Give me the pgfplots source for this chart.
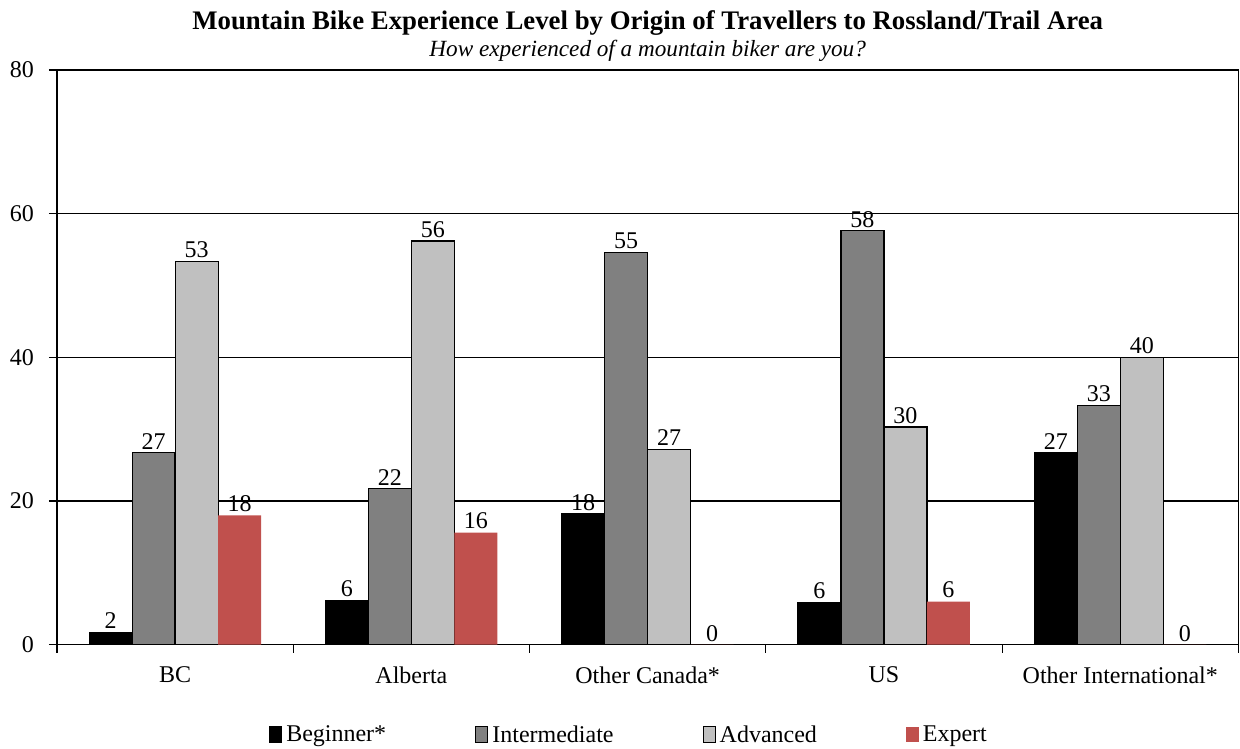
\documentclass[border=0pt]{standalone}
\usepackage{fontspec}
\setmainfont{Liberation Serif}
\usepackage{pgfplots}
\pgfplotsset{compat=1.18}
\definecolor{expert}{RGB}{192,80,77}
\definecolor{interm}{RGB}{128,128,128}
\definecolor{adv}{RGB}{192,192,192}

\begin{document}
\begin{tikzpicture}[font=\fontsize{12}{14}\selectfont]
\begin{axis}[
  at={(0,0)}, anchor=south west,
  scale only axis, width=591pt, height=287.5pt,
  xmin=-0.5, xmax=4.5, ymin=0, ymax=80,
  ytick={0,20,40,60,80},
  xtick={-0.5,0.5,1.5,2.5,3.5,4.5},
  xticklabels={BC,Alberta,Other Canada*,US,Other International*},
  x tick label as interval,
  tick align=outside, xtick pos=bottom, ytick pos=left,
  major tick length=4pt,
  ymajorgrids, grid style={black, line width=0.6pt},
  axis line style={line width=0.8pt},
  tick style={black, line width=0.6pt},
  ticklabel style={font=\fontsize{12}{14}\selectfont},
  /pgf/number format/assume math mode=true,
  yticklabel style={xshift=-4pt},
  xticklabel style={yshift=-3.5pt},
  bar width=21.5pt,
  nodes near coords,
  nodes near coords style={font=\fontsize{12}{14}\selectfont, inner sep=1.5pt,
     /pgf/number format/fixed, /pgf/number format/precision=0},
  legend style={at={(0.485,-0.158)}, anchor=center, draw=none,
     legend columns=4, font=\fontsize{12}{14}\selectfont,
     /tikz/every even column/.append style={column sep=42.5pt}},
  legend cell align=left,
]
\addplot[ybar, bar shift=-32.27pt, fill=black, draw=black, line width=0.6pt,
  every node near coord/.append style={xshift=-32.27pt},
  legend image code/.code={\draw[fill=black,draw=black,line width=0.6pt] (0pt,-3.5pt) rectangle (6pt,4.5pt);}]
  coordinates {(0,1.7) (1,6.2) (2,18.2) (3,5.9) (4,26.7)};
\addlegendentry{Beginner*}
\addplot[ybar, bar shift=-10.76pt, fill=interm, draw=black, line width=0.6pt,
  every node near coord/.append style={xshift=-10.76pt},
  legend image code/.code={\draw[fill=interm,draw=black,line width=0.6pt] (0pt,-3.5pt) rectangle (6pt,4.5pt);}]
  coordinates {(0,26.7) (1,21.7) (2,54.6) (3,57.6) (4,33.3)};
\addlegendentry{Intermediate}
\addplot[ybar, bar shift=10.76pt, fill=adv, draw=black, line width=0.6pt,
  every node near coord/.append style={xshift=10.76pt},
  legend image code/.code={\draw[fill=adv,draw=black,line width=0.6pt] (0pt,-3.5pt) rectangle (6pt,4.5pt);}]
  coordinates {(0,53.3) (1,56.2) (2,27.2) (3,30.3) (4,40)};
\addlegendentry{Advanced}
\addplot[ybar, bar shift=32.27pt, fill=expert, draw=none,
  every node near coord/.append style={xshift=32.27pt},
  legend image code/.code={\fill[expert] (0pt,-3.5pt) rectangle (6.5pt,4.5pt);}]
  coordinates {(0,18) (1,15.6) (2,0) (3,6) (4,0)};
\addlegendentry{Expert}
\end{axis}
\node[anchor=base, font=\fontsize{13.4}{15}\selectfont\bfseries] at ([yshift=20pt]current axis.north) {Mountain Bike Experience Level by Origin of Travellers to Rossland/Trail Area};
\node[anchor=base, font=\fontsize{11.6}{14}\selectfont\itshape] at ([yshift=6.8pt]current axis.north) {How experienced of a mountain biker are you?};
\pgfresetboundingbox
\useasboundingbox (-28.5pt,-52pt) rectangle (591.8pt,322.5pt);
\end{tikzpicture}
\end{document}
